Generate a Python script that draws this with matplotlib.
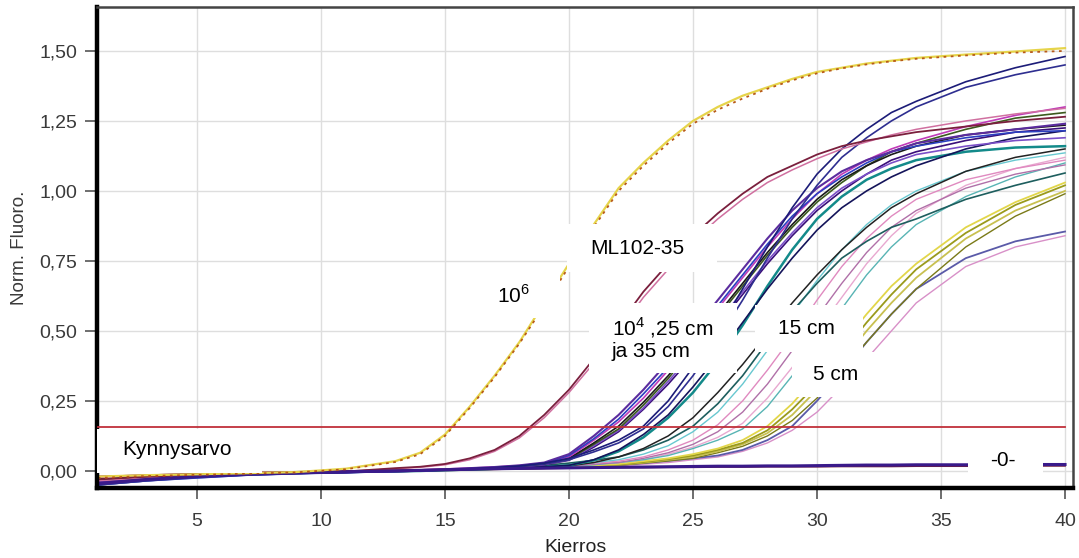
import matplotlib
matplotlib.use('Agg')
import matplotlib.pyplot as plt
from matplotlib.patches import Rectangle

plt.rcParams['font.family'] = ['Liberation Sans', 'DejaVu Sans']
plt.rcParams['mathtext.fontset'] = 'custom'
plt.rcParams['mathtext.rm'] = 'Liberation Sans'

# kierrokset (sama x-akseli kaikille käyrille)
cycles = [1, 3, 5, 7, 9, 11, 13, 14, 15, 16, 17, 18, 19, 20, 21, 22, 23, 24,
          25, 26, 27, 28, 29, 30, 31, 32, 33, 34, 36, 38, 40]
threshold = 0.157

# 10^6
std6_a = [-0.02, -0.015, -0.012, -0.008, -0.004, 0.008, 0.035, 0.065, 0.13, 0.23, 0.34, 0.46, 0.60, 0.74, 0.88, 1.01,
          1.10, 1.18, 1.25, 1.30, 1.34, 1.37, 1.40, 1.425, 1.44, 1.455, 1.465, 1.475, 1.487, 1.498, 1.51]
std6_b = [-0.025, -0.018, -0.014, -0.01, -0.005, 0.006, 0.032, 0.06, 0.125, 0.225, 0.335, 0.455, 0.59, 0.73, 0.87, 1.0,
          1.09, 1.17, 1.24, 1.29, 1.33, 1.365, 1.395, 1.42, 1.438, 1.452, 1.463, 1.472, 1.484, 1.494, 1.50]
# ML102-35
ml_a = [-0.03, -0.02, -0.015, -0.01, -0.006, -0.002, 0.01, 0.015, 0.025, 0.045, 0.075, 0.125, 0.2, 0.29, 0.4, 0.52,
        0.64, 0.74, 0.84, 0.92, 0.99, 1.05, 1.09, 1.13, 1.16, 1.18, 1.195, 1.21, 1.23, 1.25, 1.265]
ml_b = [-0.035, -0.025, -0.018, -0.012, -0.007, -0.003, 0.008, 0.013, 0.022, 0.04, 0.07, 0.118, 0.19, 0.28, 0.385, 0.5,
        0.62, 0.72, 0.82, 0.9, 0.97, 1.03, 1.075, 1.115, 1.15, 1.175, 1.2, 1.22, 1.25, 1.275, 1.295]
# 10^4, 25 cm ja 35 cm
c_navy1 = [-0.045, -0.03, -0.02, -0.012, -0.008, -0.005, 0.0, 0.002, 0.005, 0.008, 0.012, 0.018, 0.028, 0.045, 0.075,
           0.11, 0.16, 0.25, 0.37, 0.5, 0.65, 0.8, 0.94, 1.06, 1.15, 1.22, 1.28, 1.32, 1.39, 1.44, 1.48]
c_navy2 = [-0.05, -0.035, -0.022, -0.014, -0.009, -0.005, 0.0, 0.002, 0.004, 0.007, 0.011, 0.016, 0.025, 0.04, 0.068,
           0.1, 0.15, 0.23, 0.34, 0.47, 0.61, 0.76, 0.9, 1.02, 1.12, 1.19, 1.25, 1.3, 1.37, 1.415, 1.45]
c_purple = [-0.04, -0.03, -0.02, -0.012, -0.008, -0.005, 0.0, 0.003, 0.006, 0.01, 0.014, 0.02, 0.03, 0.06, 0.125, 0.2,
            0.29, 0.39, 0.5, 0.61, 0.72, 0.83, 0.93, 1.01, 1.07, 1.11, 1.14, 1.17, 1.2, 1.22, 1.24]
c_blue = [-0.05, -0.035, -0.025, -0.015, -0.01, -0.006, -0.002, 0.0, 0.004, 0.008, 0.012, 0.018, 0.028, 0.055, 0.115,
          0.185, 0.275, 0.37, 0.48, 0.59, 0.7, 0.81, 0.91, 0.99, 1.05, 1.1, 1.14, 1.16, 1.19, 1.21, 1.215]
c_magenta = [-0.02, -0.015, -0.01, -0.006, -0.004, -0.002, 0.002, 0.004, 0.007, 0.01, 0.014, 0.019, 0.028, 0.05, 0.11,
             0.175, 0.26, 0.36, 0.47, 0.58, 0.69, 0.8, 0.9, 0.99, 1.06, 1.11, 1.15, 1.18, 1.23, 1.27, 1.30]
c_black = [-0.03, -0.022, -0.016, -0.01, -0.006, -0.003, 0.0, 0.002, 0.005, 0.008, 0.012, 0.017, 0.026, 0.045, 0.1,
           0.16, 0.245, 0.34, 0.45, 0.56, 0.67, 0.78, 0.88, 0.97, 1.04, 1.09, 1.13, 1.16, 1.2, 1.22, 1.235]
c_green = [-0.035, -0.025, -0.018, -0.011, -0.007, -0.004, 0.0, 0.002, 0.005, 0.008, 0.011, 0.016, 0.025, 0.042, 0.095,
           0.15, 0.235, 0.33, 0.44, 0.55, 0.66, 0.77, 0.87, 0.96, 1.03, 1.09, 1.14, 1.17, 1.22, 1.26, 1.28]
c_violet = [-0.045, -0.03, -0.02, -0.013, -0.008, -0.005, -0.001, 0.001, 0.004, 0.007, 0.01, 0.015, 0.023, 0.04, 0.09,
            0.145, 0.225, 0.32, 0.42, 0.53, 0.64, 0.75, 0.85, 0.94, 1.01, 1.06, 1.1, 1.13, 1.16, 1.18, 1.19]
c_indigo = [-0.04, -0.028, -0.019, -0.012, -0.008, -0.004, 0.0, 0.002, 0.004, 0.007, 0.01, 0.014, 0.022, 0.038, 0.085,
            0.14, 0.22, 0.31, 0.41, 0.52, 0.63, 0.74, 0.84, 0.93, 1.0, 1.06, 1.11, 1.14, 1.18, 1.21, 1.225]
d_navy = [-0.04, -0.03, -0.02, -0.012, -0.008, -0.005, -0.002, 0.0, 0.003, 0.005, 0.008, 0.011, 0.015, 0.02, 0.04,
          0.075, 0.13, 0.2, 0.3, 0.41, 0.53, 0.65, 0.76, 0.86, 0.94, 1.0, 1.05, 1.09, 1.15, 1.19, 1.215]
d_teal = [-0.035, -0.025, -0.018, -0.011, -0.007, -0.004, -0.001, 0.0, 0.003, 0.005, 0.008, 0.01, 0.014, 0.02, 0.038,
          0.07, 0.12, 0.19, 0.28, 0.39, 0.52, 0.66, 0.79, 0.9, 0.98, 1.04, 1.08, 1.11, 1.14, 1.155, 1.16]
d_black = [-0.03, -0.022, -0.016, -0.01, -0.006, -0.003, 0.0, 0.001, 0.003, 0.005, 0.007, 0.01, 0.013, 0.018, 0.03,
           0.05, 0.08, 0.125, 0.19, 0.28, 0.38, 0.49, 0.6, 0.7, 0.79, 0.87, 0.94, 0.99, 1.07, 1.12, 1.15]
# 15 cm
e_cyan = [-0.03, -0.022, -0.016, -0.01, -0.006, -0.003, 0.0, 0.002, 0.004, 0.006, 0.009, 0.012, 0.016, 0.022, 0.03,
          0.04, 0.06, 0.09, 0.14, 0.21, 0.31, 0.43, 0.56, 0.68, 0.79, 0.88, 0.95, 1.0, 1.07, 1.11, 1.136]
e_pink = [-0.025, -0.018, -0.013, -0.008, -0.005, -0.002, 0.0, 0.002, 0.004, 0.006, 0.008, 0.011, 0.015, 0.02, 0.027,
          0.035, 0.05, 0.075, 0.11, 0.165, 0.25, 0.36, 0.48, 0.61, 0.73, 0.83, 0.91, 0.97, 1.04, 1.08, 1.11]
e_mauve = [-0.03, -0.02, -0.015, -0.009, -0.005, -0.002, 0.0, 0.001, 0.003, 0.005, 0.007, 0.01, 0.013, 0.018, 0.024,
           0.03, 0.045, 0.065, 0.095, 0.14, 0.21, 0.31, 0.43, 0.55, 0.67, 0.78, 0.87, 0.93, 1.01, 1.06, 1.093]
e_dteal = [-0.04, -0.028, -0.019, -0.012, -0.007, -0.004, 0.0, 0.002, 0.004, 0.007, 0.01, 0.014, 0.02, 0.028, 0.038,
           0.05, 0.075, 0.11, 0.16, 0.24, 0.34, 0.46, 0.57, 0.67, 0.76, 0.82, 0.87, 0.9, 0.97, 1.02, 1.064]
e_lteal = [-0.045, -0.032, -0.022, -0.014, -0.009, -0.005, -0.002, 0.0, 0.002, 0.004, 0.006, 0.009, 0.012, 0.016, 0.022,
           0.03, 0.04, 0.055, 0.08, 0.11, 0.15, 0.23, 0.34, 0.46, 0.58, 0.7, 0.8, 0.88, 0.98, 1.05, 1.1]
e_lpink = [-0.02, -0.015, -0.011, -0.007, -0.004, -0.002, 0.0, 0.001, 0.003, 0.005, 0.007, 0.01, 0.013, 0.017, 0.023,
           0.03, 0.04, 0.06, 0.085, 0.12, 0.17, 0.26, 0.37, 0.5, 0.62, 0.74, 0.84, 0.92, 1.02, 1.08, 1.12]
# 5 cm
f_yellow = [-0.03, -0.022, -0.016, -0.01, -0.006, -0.003, 0.0, 0.002, 0.004, 0.006, 0.008, 0.01, 0.012, 0.015, 0.02,
            0.025, 0.035, 0.045, 0.06, 0.08, 0.11, 0.16, 0.24, 0.34, 0.45, 0.56, 0.66, 0.74, 0.87, 0.96, 1.03]
f_olive = [-0.035, -0.025, -0.018, -0.011, -0.007, -0.004, -0.001, 0.001, 0.003, 0.005, 0.007, 0.009, 0.011, 0.014,
           0.018, 0.023, 0.032, 0.042, 0.055, 0.075, 0.1, 0.145, 0.22, 0.31, 0.42, 0.53, 0.63, 0.72, 0.85, 0.95, 1.02]
f_khaki = [-0.04, -0.028, -0.02, -0.012, -0.008, -0.004, -0.001, 0.0, 0.002, 0.004, 0.006, 0.008, 0.01, 0.013, 0.017,
           0.022, 0.03, 0.04, 0.05, 0.07, 0.095, 0.135, 0.2, 0.29, 0.39, 0.5, 0.6, 0.69, 0.83, 0.93, 1.0]
f_dolive = [-0.03, -0.022, -0.016, -0.01, -0.006, -0.003, 0.0, 0.001, 0.003, 0.004, 0.006, 0.008, 0.01, 0.012, 0.016,
            0.02, 0.028, 0.036, 0.045, 0.065, 0.088, 0.125, 0.18, 0.26, 0.36, 0.46, 0.56, 0.65, 0.8, 0.91, 0.99]
f_pink = [-0.025, -0.018, -0.013, -0.008, -0.005, -0.002, 0.0, 0.001, 0.002, 0.004, 0.005, 0.007, 0.009, 0.011, 0.014,
          0.018, 0.024, 0.03, 0.04, 0.05, 0.07, 0.1, 0.145, 0.21, 0.3, 0.4, 0.5, 0.6, 0.73, 0.8, 0.84]
f_blue = [-0.05, -0.035, -0.024, -0.015, -0.009, -0.005, -0.002, 0.0, 0.002, 0.004, 0.006, 0.008, 0.01, 0.013, 0.017,
          0.022, 0.028, 0.036, 0.045, 0.055, 0.075, 0.11, 0.16, 0.25, 0.35, 0.46, 0.56, 0.65, 0.76, 0.82, 0.855]
# -0-
neg_a = [-0.045, -0.03, -0.02, -0.012, -0.007, -0.003, 0.0, 0.002, 0.004, 0.006, 0.008, 0.009, 0.01, 0.011, 0.012,
         0.013, 0.014, 0.015, 0.016, 0.017, 0.017, 0.018, 0.018, 0.019, 0.02, 0.021, 0.021, 0.022, 0.022, 0.023, 0.023]
neg_b = [-0.02, -0.015, -0.01, -0.006, -0.003, 0.0, 0.003, 0.004, 0.005, 0.006, 0.007, 0.008, 0.009, 0.01, 0.011,
         0.012, 0.012, 0.013, 0.013, 0.014, 0.014, 0.015, 0.015, 0.015, 0.016, 0.016, 0.016, 0.017, 0.017, 0.018, 0.018]

series = [
    (f_pink, '#d890c8', 1.0, '-'), (f_blue, '#5a5aa8', 1.3, '-'),
    (f_dolive, '#7a7a18', 1.0, '-'), (f_khaki, '#c8c050', 1.3, '-'),
    (f_olive, '#9a9a1c', 1.3, '-'), (f_yellow, '#e2d64a', 1.3, '-'),
    (e_lpink, '#e8a8d0', 1.0, '-'), (e_lteal, '#58b4b4', 1.0, '-'),
    (e_mauve, '#b070a8', 1.0, '-'), (e_pink, '#e08ac0', 1.0, '-'),
    (e_cyan, '#68c8d0', 1.0, '-'), (e_dteal, '#1d5e5e', 1.2, '-'),
    (d_black, '#222222', 1.1, '-'), (d_teal, '#138a8a', 1.8, '-'),
    (d_navy, '#14145a', 1.2, '-'),
    (c_indigo, '#3a0f7a', 1.2, '-'), (c_violet, '#7b4fc8', 1.2, '-'),
    (c_green, '#3c5a1e', 1.2, '-'), (c_black, '#1a1a1a', 1.2, '-'),
    (c_magenta, '#c03ab8', 1.2, '-'), (c_blue, '#2b3fc0', 1.2, '-'),
    (c_purple, '#5b2c9e', 1.5, '-'),
    (c_navy2, '#2e2e90', 1.2, '-'), (c_navy1, '#1c1c78', 1.2, '-'),
    (ml_b, '#d070a0', 1.1, '-'), (ml_a, '#7a1f3d', 1.3, '-'),
    (neg_b, '#702040', 1.2, '-'), (neg_a, '#3a1a8a', 2.2, '-'),
    (std6_a, '#e6d44a', 1.6, '-'), (std6_b, '#b85a18', 1.3, (0, (1.5, 2.5))),
]

fig = plt.figure(figsize=(10.79, 5.58), dpi=100)
ax = fig.add_axes([0.0899, 0.1254, 0.9045, 0.8621])

for vals, col, lw, ls in series:
    ax.plot(cycles, vals, color=col, lw=lw, ls=ls, zorder=2)

ax.plot([cycles[0], cycles[-1]], [threshold, threshold], color='#c0303a', lw=1.3, zorder=3)

ax.set_xlim(0.97, 40.32)
ax.set_ylim(-0.061, 1.657)
ax.set_xticks([5, 10, 15, 20, 25, 30, 35, 40])
ax.set_yticks([0, 0.25, 0.5, 0.75, 1.0, 1.25, 1.5])
ax.set_yticklabels(['0,00', '0,25', '0,50', '0,75', '1,00', '1,25', '1,50'])
ax.grid(color='#dedede', lw=1)
ax.set_axisbelow(True)
ax.tick_params(axis='x', direction='out', length=8, width=1.2, color='#555555',
               labelsize=14, labelcolor='#3a3a3a', pad=10)
ax.tick_params(axis='y', direction='out', length=9, width=1.2, color='#555555',
               labelsize=14, labelcolor='#3a3a3a', pad=5)
for s in ['left', 'bottom']:
    ax.spines[s].set_linewidth(3.2)
    ax.spines[s].set_color('black')
for s in ['top', 'right']:
    ax.spines[s].set_linewidth(1.8)
    ax.spines[s].set_color('#444444')

# valkoiset laatikot tekstien alla
boxes = [
    (19.92, 0.711, 6.05, 0.171), (16.29, 0.546, 3.35, 0.165),
    (20.81, 0.35, 5.96, 0.25), (27.5, 0.425, 4.35, 0.168),
    (28.99, 0.264, 3.67, 0.161), (0.97, -0.007, 6.65, 0.158),
    (36.09, -0.021, 3.02, 0.132),
]
for x0, y0, w, h in boxes:
    ax.add_patch(Rectangle((x0, y0), w, h, facecolor='white', edgecolor='none', zorder=5))

tkw = dict(fontsize=15, color='black', va='center', ha='left', zorder=6)
ax.text(20.85, 0.793, 'ML102-35', **tkw)
ax.text(17.1, 0.625, r'10$^{\mathregular{6}}$', **tkw)
ax.text(21.73, 0.511, r'10$^{\mathregular{4}}$ ,25 cm', **tkw)
ax.text(21.73, 0.425, 'ja 35 cm', **tkw)
ax.text(28.43, 0.507, '15 cm', **tkw)
ax.text(29.84, 0.343, '5 cm', **tkw)
ax.text(1.98, 0.075, 'Kynnysarvo', **tkw)
ax.text(36.98, 0.036, '-0-', **tkw)

fig.text(20 / 1079, 1 - 248 / 558, 'Norm. Fluoro.', rotation=90, ha='center', va='center',
         fontsize=13.5, color='#3a3a3a')
fig.text(576 / 1079, 1 - 547 / 558, 'Kierros', ha='center', va='center', fontsize=14, color='#222222')

fig.savefig('out.png', dpi=100)
